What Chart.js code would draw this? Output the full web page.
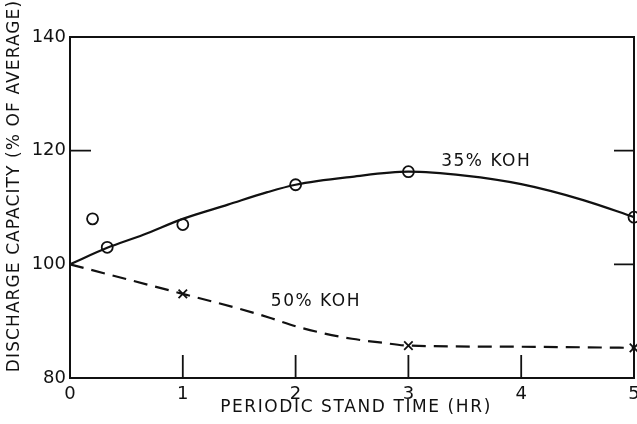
<!DOCTYPE html>
<html>
<head>
<meta charset="utf-8">
<script src="https://cdn.jsdelivr.net/npm/chart.js@4/dist/chart.umd.min.js"></script>
<style>
  html, body { margin: 0; padding: 0; background: #fff; }
  canvas { display: block; }
</style>
</head>
<body>
<canvas id="chart" width="637" height="424"></canvas>
<script>
// 35% KOH: fitted curve and measured points
const curve35X = [0, 0.33, 0.65, 1, 1.4, 1.75, 2, 2.5, 3, 3.5, 4, 4.55, 5];
const curve35Y = [100, 102.9, 105.2, 108, 110.5, 112.7, 114, 115.4, 116.3, 115.6, 114.1, 111.3, 108.3];
const pts35X = [0.2, 0.33, 1, 2, 3, 5];
const pts35Y = [108, 103, 107, 114, 116.3, 108.3];

// 50% KOH: fitted curve and measured points
const curve50X = [0, 1, 1.5, 1.77, 2, 2.24, 2.5, 2.77, 3, 4, 5];
const curve50Y = [100, 94.8, 92.2, 90.6, 89.1, 87.9, 86.9, 86.2, 85.7, 85.5, 85.3];
const pts50X = [1, 3, 5];
const pts50Y = [94.8, 85.7, 85.3];

const xTicks = [0, 1, 2, 3, 4, 5];
const yTicks = [80, 100, 120, 140];
const innerTicksX = [1, 2, 3, 4];
const innerTicksLeft = [120];
const innerTicksRight = [100, 120];

const labels = [
  { text: '35% KOH', x: 3.69, y: 118 },
  { text: '50% KOH', x: 2.18, y: 93.4 }
];
const xTitle = 'PERIODIC STAND TIME (HR)';
const yTitle = 'DISCHARGE CAPACITY (% OF AVERAGE)';

const pairs = (xs, ys) => xs.map((x, i) => ({ x: x, y: ys[i] }));
const FONT = '"DejaVu Sans", sans-serif';
const INK = '#111';

const framePlugin = {
  id: 'frame',
  afterDraw(chart) {
    const ctx = chart.ctx;
    const a = chart.chartArea;
    const xs = chart.scales.x, ys = chart.scales.y;
    ctx.save();
    ctx.strokeStyle = INK;
    ctx.lineWidth = 2;
    ctx.strokeRect(a.left, a.top, a.right - a.left, a.bottom - a.top);

    ctx.beginPath();
    innerTicksX.forEach(v => {
      const px = xs.getPixelForValue(v);
      ctx.moveTo(px, a.bottom);
      ctx.lineTo(px, a.bottom - 23);
    });
    innerTicksLeft.forEach(v => {
      const py = ys.getPixelForValue(v);
      ctx.moveTo(a.left, py);
      ctx.lineTo(a.left + 21, py);
    });
    innerTicksRight.forEach(v => {
      const py = ys.getPixelForValue(v);
      ctx.moveTo(a.right, py);
      ctx.lineTo(a.right - 20, py);
    });
    ctx.lineWidth = 1.8;
    ctx.stroke();

    ctx.fillStyle = INK;
    ctx.font = '17px ' + FONT;
    ctx.letterSpacing = '1.5px';
    ctx.textAlign = 'center';
    ctx.textBaseline = 'middle';
    labels.forEach(l => {
      ctx.fillText(l.text, xs.getPixelForValue(l.x), ys.getPixelForValue(l.y));
    });

    ctx.letterSpacing = '1.6px';
    ctx.fillText(xTitle, 356, 408);
    ctx.translate(15, 186);
    ctx.rotate(-Math.PI / 2);
    ctx.letterSpacing = '1.1px';
    ctx.fillText(yTitle, 0, 0);
    ctx.restore();
  }
};

new Chart(document.getElementById('chart'), {
  type: 'scatter',
  data: {
    datasets: [
      {
        data: pairs(curve35X, curve35Y),
        showLine: true,
        borderColor: INK,
        borderWidth: 2.2,
        pointRadius: 0,
        cubicInterpolationMode: 'monotone',
        clip: false
      },
      {
        data: pairs(curve50X, curve50Y),
        showLine: true,
        borderColor: INK,
        borderWidth: 2.2,
        borderDash: [14, 8],
        pointRadius: 0,
        cubicInterpolationMode: 'monotone',
        clip: false
      },
      {
        data: pairs(pts35X, pts35Y),
        pointStyle: 'circle',
        pointRadius: 5.5,
        pointBackgroundColor: '#fff',
        pointBorderColor: INK,
        pointBorderWidth: 1.8,
        clip: false
      },
      {
        data: pairs(pts50X, pts50Y),
        pointStyle: 'crossRot',
        pointRadius: 6,
        pointBorderColor: INK,
        pointBorderWidth: 1.8,
        clip: false
      }
    ]
  },
  options: {
    responsive: false,
    devicePixelRatio: 1,
    animation: false,
    layout: { autoPadding: false, padding: { top: 37, right: 3, left: 0, bottom: 0 } },
    plugins: { legend: { display: false }, tooltip: { enabled: false } },
    scales: {
      x: {
        type: 'linear',
        min: 0,
        max: 5,
        afterBuildTicks: s => { s.ticks = xTicks.map(v => ({ value: v })); },
        ticks: { color: INK, font: { family: FONT, size: 18 }, padding: 6, maxRotation: 0 },
        grid: { display: false, drawTicks: false },
        border: { display: false },
        afterFit: s => { s.height = 46; s.paddingLeft = 0; s.paddingRight = 0; }
      },
      y: {
        type: 'linear',
        min: 80,
        max: 140,
        afterBuildTicks: s => { s.ticks = yTicks.map(v => ({ value: v })); },
        ticks: { color: INK, font: { family: FONT, size: 18 }, padding: 4 },
        grid: { display: false, drawTicks: false },
        border: { display: false },
        afterFit: s => { s.width = 70; s.paddingTop = 0; s.paddingBottom = 0; }
      }
    }
  },
  plugins: [framePlugin]
});
</script>
</body>
</html>
